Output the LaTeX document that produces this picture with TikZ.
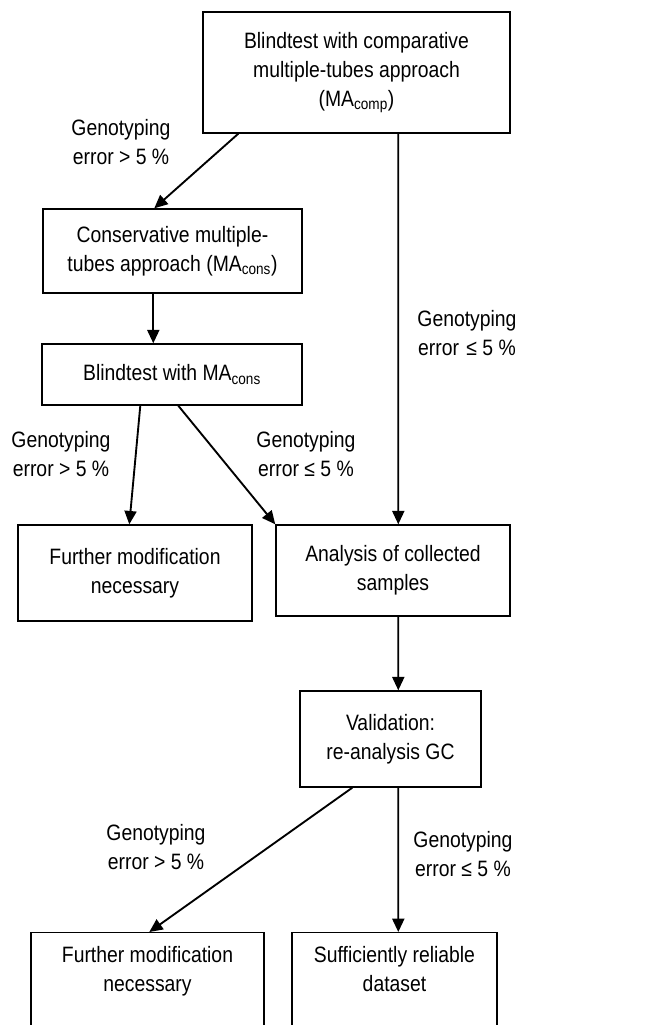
\documentclass[tikz,border=0pt]{standalone}
\usepackage{fontspec}
\setmainfont{Liberation Sans}[FakeStretch=0.87]
\usetikzlibrary{arrows.meta,calc}

\tikzset{
    caja/.style={draw, line width=1.2pt, rectangle, align=center,
        font=\fontsize{19}{24.7}\selectfont},
    flecha/.style={-{Triangle[length=4mm,width=3.6mm]}, line width=1.6pt},
    etiqueta/.style={align=center, font=\fontsize{19}{24.7}\selectfont}
}

\begin{document}
\begin{tikzpicture}[x=0.03cm, y=-0.03cm]

    % Recortamos al tamano de la figura
    \clip (0,0) rectangle (646,1025);

    % Cajas
    \node[caja, minimum width=9.21cm, minimum height=3.63cm] (prueba) at (356.5,72.5)
        {Blindtest with comparative\\multiple-tubes approach\\(MA\textsubscript{comp})};
    \node[caja, minimum width=7.77cm, minimum height=2.52cm] (conservador) at (172.5,251)
        {Conservative multiple-\\tubes approach (MA\textsubscript{cons})};
    \node[caja, minimum width=7.8cm, minimum height=1.83cm] (pruebacons) at (172,374.5)
        {Blindtest with MA\textsubscript{cons}};
    \node[caja, minimum width=7.02cm, minimum height=2.88cm] (modif) at (135,573)
        {Further modification\\necessary};
    \node[caja, minimum width=7.02cm, minimum height=2.73cm] (analisis) at (393,570.5)
        {Analysis of collected\\samples};
    \node[caja, minimum width=5.43cm, minimum height=2.88cm] (validacion) at (390.5,739)
        {Validation:\\re-analysis GC};
    \node[caja, anchor=north, minimum width=6.99cm, inner ysep=0.4cm, text depth=2.2cm] (modifdos) at (147.5,932)
        {Further modification\\necessary};
    \node[caja, anchor=north, minimum width=6.15cm, inner ysep=0.4cm, text depth=2.2cm] (fiable) at (394.5,932)
        {Sufficiently reliable\\dataset};

    % Flechas
    \draw[flecha] ($(prueba.south west)+(36,0)$) -- ($(conservador.north west)+(112,0)$);
    \draw[flecha] ($(prueba.south west)+(196,0)$) -- ($(analisis.north west)+(123,0)$);
    \draw[flecha] ($(conservador.south west)+(111,0)$) -- ($(pruebacons.north west)+(112,0)$);
    \draw[flecha] ($(pruebacons.south west)+(99,0)$) -- ($(modif.north west)+(112,0)$);
    \draw[flecha] ($(pruebacons.south west)+(137,0)$) -- (analisis.north west);
    \draw[flecha] ($(analisis.south west)+(123,0)$) -- ($(validacion.north west)+(99,0)$);
    \draw[flecha] ($(validacion.south west)+(53,0)$) -- ($(modifdos.north west)+(119,0)$);
    \draw[flecha] ($(validacion.south west)+(99,0)$) -- ($(fiable.north west)+(107,0)$);

    % Etiquetas
    \node[etiqueta] (errorA) at (121,142.5) {Genotyping\\error > 5 \%};
    \node[etiqueta] (errorB) at (467,333.5) {Genotyping\\ error \ \(\!\)≤ 5 \%};
    \node[etiqueta] (errorC) at (61,454) {Genotyping\\error > 5 \%};
    \node[etiqueta] (errorD) at (306,454) {Genotyping\\error ≤ 5 \%};
    \node[etiqueta] (errorE) at (156,847.5) {Genotyping\\error > 5 \%};
    \node[etiqueta] (errorF) at (463,854) {Genotyping\\error ≤ 5 \%};

\end{tikzpicture}
\end{document}
